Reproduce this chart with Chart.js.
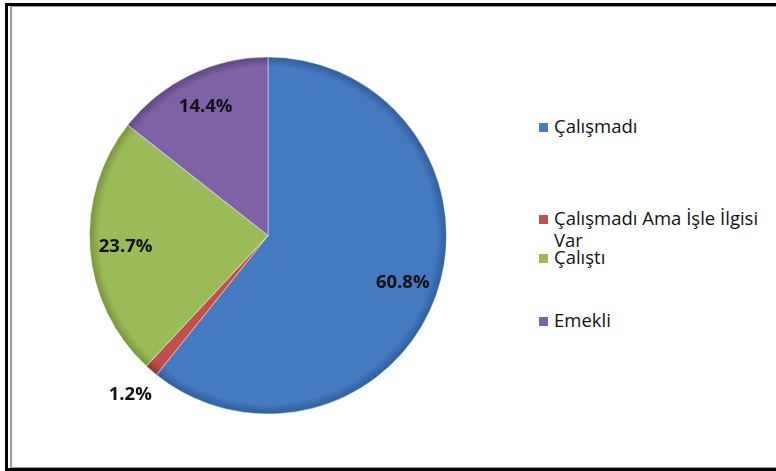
<!DOCTYPE html>
<html>
<head>
<meta charset="utf-8">
<script src="https://cdn.jsdelivr.net/npm/chart.js@4/dist/chart.umd.min.js"></script>
<style>
    html, body {
        margin: 0;
        padding: 0;
        background: #fff;
        width: 776px;
        height: 471px;
        overflow: hidden;
    }
    .bar { position: absolute; background: #000; }
    .gray { position: absolute; background: #9a9a9a; }
    #pieWrap {
        position: absolute;
        left: 10px;
        top: 8px;
        width: 516px;
        height: 455px;
    }
    #legend {
        position: absolute;
        left: 538px;
        top: 115px;
        font-family: "Open Sans", Lato, sans-serif;
        font-size: 18.5px;
        color: #111;
    }
    .item {
        position: absolute;
        left: 0;
        width: 220px;
        line-height: 22px;
        padding-left: 16px;
        white-space: pre;
    }
    .box {
        position: absolute;
        left: 1px;
        top: 8px;
        width: 9px;
        height: 9px;
    }
</style>
</head>
<body>
<!-- frame: black outer lines, grey inner lines -->
<div class="bar" style="left:5px; top:3px; width:771px; height:3px;"></div>
<div class="bar" style="left:5px; top:3px; width:3px; height:468px;"></div>
<div class="bar" style="left:5px; top:468px; width:771px; height:3px;"></div>
<div class="gray" style="left:10px; top:6px; width:2px; height:462px;"></div>
<div class="gray" style="left:10px; top:6px; width:766px; height:1px;"></div>
<div class="gray" style="left:10px; top:467px; width:766px; height:1px;"></div>

<div id="pieWrap"><canvas id="pieChart"></canvas></div>
<div id="legend"></div>

<script>
const labels = ["Çalışmadı", "Çalışmadı Ama İşle İlgisi\nVar", "Çalıştı", "Emekli"];
const values = [60.8, 1.2, 23.7, 14.4];
const valueLabels = ["60.8%", "1.2%", "23.7%", "14.4%"];
const colors = ["#4579C0", "#C0504D", "#9BBB59", "#7F62A5"];
const edgeColors = ["#2F5C9A", "#8E3230", "#76923A", "#5D4580"];
const legendTops = [0, 92, 131, 194];

/* =====================================
   LEGEND (HTML)
===================================== */

function buildLegend() {
    const box = document.getElementById("legend");
    labels.forEach((text, i) => {
        const item = document.createElement("div");
        item.className = "item";
        item.style.top = legendTops[i] + "px";
        item.textContent = text;

        const sw = document.createElement("span");
        sw.className = "box";
        sw.style.background = colors[i];
        item.appendChild(sw);

        box.appendChild(item);
    });
}

/* slight bevel: darker rim on every slice */
function sliceFill(context) {
    const chart = context.chart;
    const area = chart.chartArea;
    const i = context.dataIndex;
    if (!area) return colors[i];

    const cx = (area.left + area.right) / 2;
    const cy = (area.top + area.bottom) / 2;
    const r = Math.min(area.width, area.height) / 2;

    const g = chart.ctx.createRadialGradient(cx, cy, 0, cx, cy, r);
    g.addColorStop(0, colors[i]);
    g.addColorStop(0.94, colors[i]);
    g.addColorStop(1, edgeColors[i]);
    return g;
}

/* =====================================
   SLICE LABELS
===================================== */

const sliceLabels = {
    id: "sliceLabels",
    afterDatasetsDraw(chart) {
        const ctx = chart.ctx;
        const meta = chart.getDatasetMeta(0);

        ctx.save();
        ctx.font = "bold 18.5px 'Open Sans', Lato, sans-serif";
        ctx.fillStyle = "#111";
        ctx.textAlign = "center";
        ctx.textBaseline = "middle";

        meta.data.forEach((arc, i) => {
            const p = arc.getProps(["x", "y", "startAngle", "endAngle", "outerRadius"], true);
            const mid = (p.startAngle + p.endAngle) / 2;
            // small slice goes outside the pie
            const k = values[i] < 5 ? 1.18 : 0.8;
            const r = p.outerRadius * k;
            ctx.fillText(valueLabels[i], p.x + Math.cos(mid) * r, p.y + Math.sin(mid) * r);
        });

        ctx.restore();
    }
};

function renderPie() {
    const ctx = document.getElementById("pieChart").getContext("2d");

    new Chart(ctx, {
        type: "pie",
        data: {
            labels: labels,
            datasets: [{
                data: values,
                backgroundColor: sliceFill,
                borderColor: "rgba(255,255,255,0.45)",
                borderWidth: 1
            }]
        },
        options: {
            responsive: true,
            maintainAspectRatio: false,
            animation: false,
            layout: {
                padding: { top: 48, bottom: 48, left: 79, right: 79 }
            },
            plugins: {
                legend: { display: false },
                tooltip: { enabled: false }
            }
        },
        plugins: [sliceLabels]
    });
}

document.addEventListener("DOMContentLoaded", () => {
    buildLegend();
    renderPie();
});
</script>
</body>
</html>
